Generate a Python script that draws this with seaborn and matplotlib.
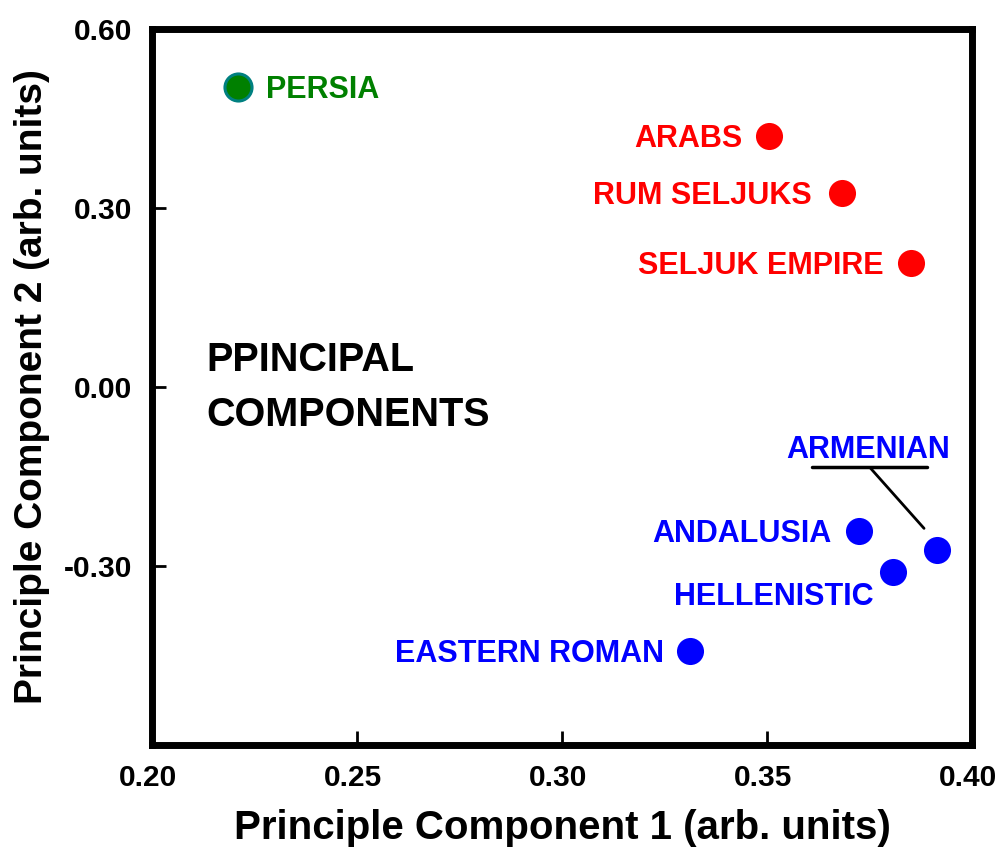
import matplotlib
matplotlib.use('Agg')
import matplotlib.pyplot as plt
import matplotlib.transforms as mtransforms
import seaborn as sns
import pandas as pd

# data
names = ['PERSIA', 'ARABS', 'RUM SELJUKS', 'SELJUK EMPIRE',
         'ANDALUSIA', 'ARMENIAN', 'HELLENISTIC', 'EASTERN ROMAN']
pc1 = [0.221, 0.3505, 0.3683, 0.3851, 0.3724, 0.3915, 0.3807, 0.3312]
pc2 = [0.503, 0.421, 0.325, 0.208, -0.241, -0.273, -0.310, -0.442]
group = ['persia', 'turk', 'turk', 'turk', 'west', 'west', 'west', 'west']

x_ticks = [0.20, 0.25, 0.30, 0.35, 0.40]
y_ticks = [-0.30, 0.00, 0.30, 0.60]

df = pd.DataFrame({'name': names, 'pc1': pc1, 'pc2': pc2, 'group': group})

sns.set_style('white')
plt.rcParams['font.family'] = ['Liberation Sans', 'DejaVu Sans']
plt.rcParams['font.weight'] = 'bold'
plt.rcParams['text.color'] = 'black'
plt.rcParams['axes.labelcolor'] = 'black'
plt.rcParams['xtick.color'] = 'black'
plt.rcParams['ytick.color'] = 'black'

colors = {'persia': '#008000', 'turk': '#ff0000', 'west': '#0000ff'}
edges = {'persia': '#008080', 'turk': '#ff0000', 'west': '#0000ff'}

fig = plt.figure(figsize=(9.99, 8.49), dpi=100)
ax = fig.add_axes([0.152, 0.1225, 0.821, 0.8435])

for g, sub in df.groupby('group'):
    sns.scatterplot(data=sub, x='pc1', y='pc2', ax=ax, s=380,
                    color=colors[g], edgecolor=edges[g],
                    linewidth=2.2 if g == 'persia' else 0, zorder=3)

# label offsets in pixels (dx, dy, ha)
offsets = {
    'PERSIA': (28, -3, 'left'),
    'ARABS': (-27, -3, 'right'),
    'RUM SELJUKS': (-30, -3, 'right'),
    'SELJUK EMPIRE': (-27, -3, 'right'),
    'ANDALUSIA': (-27, -3, 'right'),
    'HELLENISTIC': (-19, -25, 'right'),
    'EASTERN ROMAN': (-26, -3, 'right'),
}
lab_fs = 22
for _, r in df.iterrows():
    c = colors[r['group']]
    if r['name'] == 'ARMENIAN':
        ax.annotate(r['name'], xy=(r['pc1'], r['pc2']),
                    xytext=(-69, 100), textcoords='offset pixels',
                    ha='center', va='center', fontsize=lab_fs, color=c,
                    fontweight='bold')
        # leader line
        ax.plot([r['pc1'] - 0.0306, r['pc1'] - 0.0025],
                [r['pc2'] + 0.138, r['pc2'] + 0.138], color='black', lw=2.5)
        ax.plot([r['pc1'] - 0.0164, r['pc1'] - 0.0032],
                [r['pc2'] + 0.138, r['pc2'] + 0.036], color='black', lw=2)
        continue
    dx, dy, ha = offsets[r['name']]
    ax.annotate(r['name'], xy=(r['pc1'], r['pc2']),
                xytext=(dx, dy), textcoords='offset pixels',
                ha=ha, va='center', fontsize=lab_fs, color=c,
                fontweight='bold')

ax.text(0.067, 0.499, 'PPINCIPAL\nCOMPONENTS', transform=ax.transAxes,
        fontsize=28.5, fontweight='bold', ha='left', va='center',
        linespacing=1.55)

ax.set_xlim(0.20, 0.40)
ax.set_ylim(-0.60, 0.60)
ax.set_xticks(x_ticks)
ax.set_yticks(y_ticks)
ax.set_xticklabels([f'{t:.2f}' for t in x_ticks])
ax.set_yticklabels([f'{t:.2f}' for t in y_ticks])
ax.tick_params(bottom=True, left=True, direction='in', length=10, width=2,
               labelsize=21.5, pad=14)
# x tick labels sit a little left of their ticks in the reference
shift = mtransforms.ScaledTranslation(-4 / 100, 0, fig.dpi_scale_trans)
for lbl in ax.get_xticklabels():
    lbl.set_transform(lbl.get_transform() + shift)
ax.set_xlabel('Principle Component 1 (arb. units)', fontsize=29,
              fontweight='bold', labelpad=12)
ax.set_ylabel('Principle Component 2 (arb. units)', fontsize=28,
              fontweight='bold', labelpad=10)
for sp in ax.spines.values():
    sp.set_linewidth(5)
    sp.set_color('black')

plt.savefig('out.png', dpi=100)
